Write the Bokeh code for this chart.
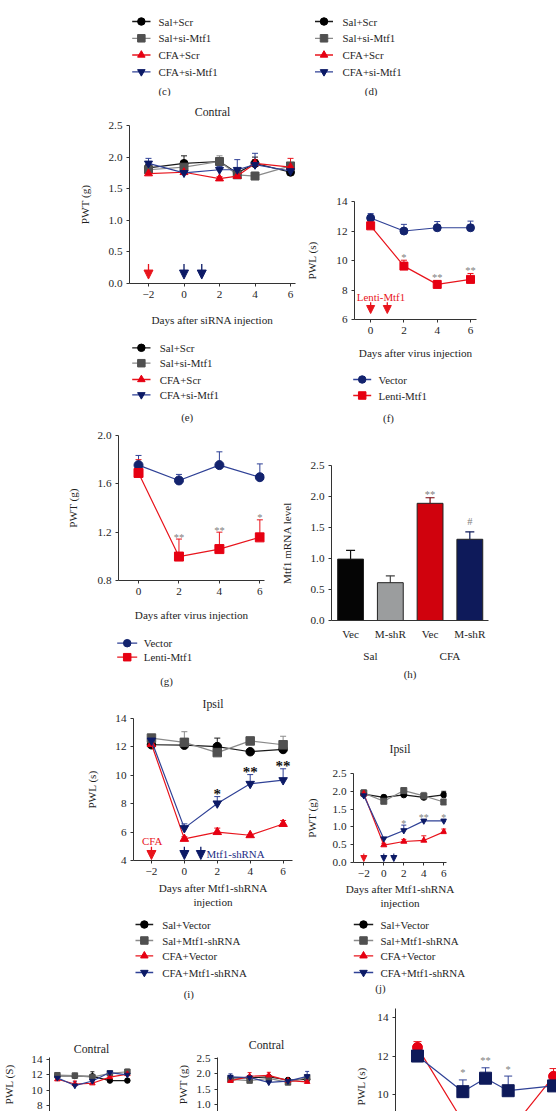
from bokeh.plotting import figure
from bokeh.layouts import column, row
from bokeh.models import (Range1d, Label, Whisker, ColumnDataSource, Arrow,
                          NormalHead, TeeHead, PrintfTickFormatter, LinearAxis,
                          FixedTicker, Title)
from bokeh.embed import file_html
from bokeh.resources import INLINE

# ---------------- data ----------------
si_groups = ["Sal+Scr", "Sal+si-Mtf1", "CFA+Scr", "CFA+si-Mtf1"]
sh_groups = ["Sal+Vector", "Sal+Mtf1-shRNA", "CFA+Vector", "CFA+Mtf1-shRNA"]
virus_groups = ["Vector", "Lenti-Mtf1"]

# (e) PWT, contralateral, siRNA
e_days = [-2, 0, 2, 3, 4, 6]
e_sal_scr = [1.83, 1.90, 1.93, 1.75, 1.90, 1.76]
e_sal_scr_err = [0.05, 0.12, 0.06, 0.06, 0.10, 0.03]
e_sal_si = [1.80, 1.84, 1.93, 1.72, 1.70, 1.86]
e_sal_si_err = [0.05, 0.05, 0.09, 0.05, 0.06, 0.05]
e_cfa_scr = [1.74, 1.76, 1.66, 1.70, 1.90, 1.84]
e_cfa_scr_err = [0.04, 0.15, 0.03, 0.03, 0.06, 0.14]
e_cfa_si = [1.90, 1.75, 1.80, 1.80, 1.88, 1.78]
e_cfa_si_err = [0.08, 0.04, 0.05, 0.16, 0.18, 0.03]
e_cfa_day = [-2]
e_sirna_days = [0, 1]

# (f) PWL after virus
f_days = [0, 2, 4, 6]
f_vector = [12.88, 12.0, 12.22, 12.22]
f_vector_err = [0.30, 0.45, 0.42, 0.45]
f_lenti = [12.35, 9.62, 8.38, 8.72]
f_lenti_err = [0.25, 0.40, 0.25, 0.40]
f_sig = ["", "*", "**", "**"]
f_virus_days = [0, 1]

# (g) PWT after virus
g_days = [0, 2, 4, 6]
g_vector = [1.755, 1.628, 1.755, 1.655]
g_vector_err = [0.08, 0.05, 0.11, 0.11]
g_lenti = [1.69, 0.998, 1.06, 1.157]
g_lenti_err = [0.11, 0.145, 0.14, 0.145]
g_sig = ["", "**", "**", "*"]

# (h) Mtf1 mRNA level
h_labels = ["Vec", "M-shR", "Vec", "M-shR"]
h_treat = ["Sal", "CFA"]
h_vals = [0.99, 0.61, 1.89, 1.31]
h_err = [0.14, 0.11, 0.09, 0.12]
h_sig = ["", "", "**", "#"]

# (i) PWL ipsilateral, shRNA
i_days = [-2, 0, 2, 4, 6]
i_sal_vec = [12.15, 12.12, 12.02, 11.66, 11.82]
i_sal_vec_err = [0.10, 0.10, 0.60, 0.10, 0.15]
i_sal_sh = [12.62, 12.32, 11.60, 12.42, 12.15]
i_sal_sh_err = [0.10, 0.75, 0.10, 0.10, 0.60]
i_cfa_vec = [12.20, 5.52, 6.00, 5.78, 6.57]
i_cfa_vec_err = [0.10, 0.15, 0.28, 0.05, 0.25]
i_cfa_sh = [12.45, 6.28, 8.02, 9.40, 9.66]
i_cfa_sh_err = [0.25, 0.30, 0.48, 0.65, 0.80]
i_sig = ["", "", "*", "**", "**"]
i_cfa_day = [-2]
i_shrna_days = [0, 1]

# (j) PWT ipsilateral, shRNA
j_days = [-2, 0, 2, 4, 6]
j_sal_vec = [1.92, 1.83, 1.90, 1.83, 1.90]
j_sal_vec_err = [0.12, 0.06, 0.05, 0.08, 0.10]
j_sal_sh = [1.95, 1.72, 2.02, 1.87, 1.70]
j_sal_sh_err = [0.10, 0.05, 0.05, 0.10, 0.05]
j_cfa_vec = [1.93, 0.49, 0.59, 0.62, 0.86]
j_cfa_vec_err = [0.05, 0.05, 0.06, 0.13, 0.08]
j_cfa_sh = [1.88, 0.67, 0.90, 1.17, 1.17]
j_cfa_sh_err = [0.05, 0.03, 0.15, 0.04, 0.04]
j_sig = ["", "", "*", "**", "*"]

# (k) PWL contralateral, shRNA
k_days = [-2, 0, 2, 4, 6]
k_sal_vec = [11.85, 11.85, 11.80, 11.25, 11.25]
k_sal_vec_err = [0.30, 0.30, 0.60, 0.10, 0.10]
k_sal_sh = [11.95, 11.90, 11.70, 12.20, 12.40]
k_sal_sh_err = [0.25, 0.25, 0.20, 0.20, 0.35]
k_cfa_vec = [11.42, 10.80, 10.90, 11.70, 12.10]
k_cfa_vec_err = [0.20, 0.40, 0.20, 0.20, 0.30]
k_cfa_sh = [11.60, 10.60, 11.20, 12.30, 12.00]
k_cfa_sh_err = [0.20, 0.50, 0.30, 0.25, 0.30]

# (l) PWT contralateral, shRNA
l_days = [-2, 0, 2, 4, 6]
l_sal_vec = [1.87, 1.87, 1.90, 1.80, 1.82]
l_sal_vec_err = [0.05, 0.05, 0.05, 0.05, 0.05]
l_sal_sh = [1.82, 1.78, 1.85, 1.72, 1.88]
l_sal_sh_err = [0.05, 0.05, 0.05, 0.05, 0.08]
l_cfa_vec = [1.77, 1.92, 1.95, 1.78, 1.74]
l_cfa_vec_err = [0.05, 0.12, 0.10, 0.10, 0.05]
l_cfa_sh = [1.90, 1.88, 1.72, 1.76, 1.92]
l_cfa_sh_err = [0.10, 0.05, 0.05, 0.05, 0.16]

# (m) PWL, last panel
m_days = [-2, 0, 1, 2, 4]
m_vector = [12.45, 8.60, 7.60, 8.00, 10.95]
m_vector_err = [0.30, 0.30, 0.30, 0.30, 0.40]
m_shrna = [12.00, 10.15, 10.85, 10.20, 10.45]
m_shrna_err = [0.15, 0.61, 0.54, 0.76, 0.30]
m_sig = ["", "*", "**", "*", ""]

# ---------------- layout helpers ----------------
FONT = "Liberation Serif"
AX = "#333333"
TXT = "#1e1e1e"


def X(v):
    return int(round(v))


def Y(v):
    return int(round(v))


def fs(px):
    return "%.1fpx" % px


def style_axis(ax):
    ax.axis_line_color = AX
    ax.axis_line_width = 1
    ax.major_tick_line_color = AX
    ax.major_tick_out = 3
    ax.major_tick_in = 0
    ax.minor_tick_line_color = None
    ax.major_label_text_font = FONT
    ax.major_label_text_font_size = fs(11.2)
    ax.major_label_text_color = TXT
    ax.major_label_standoff = 4
    ax.axis_label_text_font = FONT
    ax.axis_label_text_font_style = "normal"
    ax.axis_label_text_font_size = fs(11.2)
    ax.axis_label_text_color = TXT


def make_plot(box, frame, xr, yr, xticks, yticks, xaxis=True, title=None, title_standoff=7,
              ylabel=None, ylabel_standoff=15, xlabel=None, xlabel_standoff=12, yfmt=None):
    x0, y0, x1, y1 = box
    fl, ft, fr, fb = frame
    p = figure(width=X(x1) - X(x0), height=Y(y1) - Y(y0),
               x_range=Range1d(*xr), y_range=Range1d(*yr),
               min_border_left=X(fl) - X(x0), min_border_right=X(x1) - X(fr),
               min_border_top=Y(ft) - Y(y0), min_border_bottom=Y(y1) - Y(fb),
               x_axis_location="below" if xaxis else None,
               title=title, output_backend="svg", toolbar_location=None)
    p.outline_line_color = None
    p.grid.visible = False
    for ax in p.axis:
        style_axis(ax)
    p.yaxis.ticker = yticks
    if yfmt:
        p.yaxis.formatter = PrintfTickFormatter(format=yfmt)
    if ylabel:
        p.yaxis.axis_label = ylabel
        p.yaxis.axis_label_standoff = ylabel_standoff
    if xaxis:
        p.xaxis.ticker = xticks
        p.xaxis.major_label_overrides = {t: ("\u2212%d" % -t if t < 0 else "%d" % t) for t in xticks}
        if xlabel:
            p.xaxis.axis_label = xlabel
            p.xaxis.axis_label_standoff = xlabel_standoff
    if title:
        p.title.text_font = FONT
        p.title.text_font_style = "normal"
        p.title.text_font_size = fs(11.8)
        p.title.text_color = TXT
        p.title.align = "center"
        p.title.standoff = title_standoff
    pfl, pfr, pft, pfb = X(fl) - X(x0), X(fr) - X(x0), Y(ft) - Y(y0), Y(fb) - Y(y0)
    ox, oy = X(x0), Y(y0)

    def m(xref, yref):
        xs = xref - ox
        ys = yref - oy
        return (xr[0] + (xs - pfl) / (pfr - pfl) * (xr[1] - xr[0]),
                yr[1] - (ys - pft) / (pfb - pft) * (yr[1] - yr[0]))
    return p, m


def make_canvas(box):
    x0, y0, x1, y1 = box
    c = figure(width=X(x1) - X(x0), height=Y(y1) - Y(y0),
               x_range=Range1d(x0, x1), y_range=Range1d(y1, y0),
               min_border_left=0, min_border_right=0, min_border_top=0, min_border_bottom=0,
               x_axis_location=None, y_axis_location=None,
               title=None, output_backend="svg", toolbar_location=None)
    c.outline_line_color = None
    c.grid.visible = False
    return c


def txt(p, x, y, s, size=10.9, color=TXT, align="center", angle=0.0,
        style="normal", baseline="middle"):
    p.add_layout(Label(x=x, y=y, text=s, text_font=FONT, text_font_size=fs(size),
                       text_color=color, text_align=align, text_baseline=baseline,
                       angle=angle, text_font_style=style))


def rtxt(p, m, xref, yref, s, **kw):
    x, y = m(xref, yref)
    txt(p, x, y, s, **kw)


def add_series(p, xs, ys, errs, spec, size, lw=1.2, cap=6):
    lc, mk, mc = spec
    p.line(xs, ys, line_color=lc, line_width=lw)
    src = ColumnDataSource(dict(x=list(xs), lo=list(ys),
                                hi=[a + b for a, b in zip(ys, errs)]))
    p.add_layout(Whisker(source=src, base="x", lower="lo", upper="hi", dimension="height",
                         line_color=lc, line_width=1,
                         upper_head=TeeHead(size=cap, line_color=lc, line_width=1),
                         lower_head=None))
    p.scatter(xs, ys, marker=mk, size=size, fill_color=mc, line_color=mc)


def add_sig(p, xs, ys, errs, marks, color, size, offset, bold=False):
    for x, y, e, s in zip(xs, ys, errs, marks):
        if s:
            p.add_layout(Label(x=x, y=y + e, y_offset=offset, text=s, text_font=FONT,
                               text_font_size=fs(size), text_color=color,
                               text_align="center", text_baseline="middle",
                               text_font_style="bold" if bold else "normal"))


def add_arrows(p, m, days, ytop, ytip, color, head, lw=1.3):
    y_top = m(0, ytop)[1]
    y_tip = m(0, ytip)[1]
    for d in days:
        p.add_layout(Arrow(x_start=d, y_start=y_top, x_end=d, y_end=y_tip,
                           line_color=color, line_width=lw,
                           end=NormalHead(size=head, fill_color=color, line_color=color)))


def legend_rows(c, names, specs, xl0, xl1, xt, ys, msize=7.5, size=10.9):
    for name, (lc, mk, mc), y in zip(names, specs, ys):
        c.line([xl0, xl1], [y, y], line_color=lc, line_width=1.3)
        c.scatter([(xl0 + xl1) / 2], [y], marker=mk, size=msize, fill_color=mc, line_color=mc)
        txt(c, xt, y, name, size=size, align="left")


def wrap(p):
    return column(p)


# colours / series styles
S_BLACK = ("#1a1a1a", "circle", "#000000")
S_GRAY = ("#8a8a8a", "square", "#505050")
S_RED = ("#e8141c", "triangle", "#e60012")
S_NAVY = ("#2f4196", "inverted_triangle", "#0c1a66")
four_specs = [S_BLACK, S_GRAY, S_RED, S_NAVY]
V_NAVY = ("#2f4196", "circle", "#13236e")
V_RED = ("#e8141c", "square", "#e60012")
virus_specs = [V_NAVY, V_RED]
RED_T = "#e8141c"
NAVY_T = "#1c2c84"
YT25 = [0, 0.5, 1.0, 1.5, 2.0, 2.5]

# ---------------- band A : legends (c) and (d) ----------------
cA = make_canvas((0, 0, 556, 96))
legend_rows(cA, si_groups, four_specs, 131.7, 150, 158, [21, 37.8, 54.5, 71.3])
txt(cA, 164, 90.5, "(c)")
legend_rows(cA, si_groups, four_specs, 314.5, 332.5, 342, [21, 37.8, 54.5, 71.3])
txt(cA, 370.6, 90.5, "(d)")

# ---------------- (e) ----------------
pe, me = make_plot((0, 96, 303, 333), (129, 122.7, 295, 282.7), (-3.07, 6.28), (0, 2.5),
                   [-2, 0, 2, 4, 6], YT25, title="Contral", title_standoff=13,
                   ylabel="PWT (g)", ylabel_standoff=15,
                   xlabel="Days after siRNA injection", xlabel_standoff=13, yfmt="%.1f")
for ys, es, sp in zip([e_sal_scr, e_sal_si, e_cfa_scr, e_cfa_si],
                      [e_sal_scr_err, e_sal_si_err, e_cfa_scr_err, e_cfa_si_err], four_specs):
    add_series(pe, e_days, ys, es, sp, 8)
add_arrows(pe, me, e_cfa_day, 263.3, 278.5, RED_T, 9)
add_arrows(pe, me, e_sirna_days, 263.3, 278.5, "#0c1a66", 9)

e_leg = make_canvas((0, 333, 303, 427))
legend_rows(e_leg, si_groups, four_specs, 131.7, 150, 159.3, [347.3, 362.7, 379, 394.3])
txt(e_leg, 186.7, 416.7, "(e)")

# ---------------- (f) ----------------
pf, mf = make_plot((303, 96, 556, 370), (352.7, 200.7, 476, 319), (-0.97, 6.36), (6, 14),
                   [0, 2, 4, 6], [6, 8, 10, 12, 14], ylabel="PWL (s)", ylabel_standoff=15,
                   xlabel="Days after virus injection", xlabel_standoff=10)
add_series(pf, f_days, f_vector, f_vector_err, V_NAVY, 8)
add_series(pf, f_days, f_lenti, f_lenti_err, V_RED, 8)
add_sig(pf, f_days, f_lenti, f_lenti_err, f_sig, "#808080", 10.5, 3)
add_arrows(pf, mf, f_virus_days, 301.7, 313, RED_T, 8)
rtxt(pf, mf, 379.7, 296, "Lenti-Mtf1", color=RED_T)

f_leg = make_canvas((303, 370, 556, 427))
legend_rows(f_leg, virus_groups, virus_specs, 352.7, 370.7, 378, [379, 395])
txt(f_leg, 388, 417, "(f)")

# ---------------- (g) ----------------
pg, mg = make_plot((0, 427, 276, 628), (118.3, 434.7, 264, 580), (-0.99, 6.23), (0.8, 2.0),
                   [0, 2, 4, 6], [0.8, 1.2, 1.6, 2.0], ylabel="PWT (g)", ylabel_standoff=16,
                   xlabel="Days after virus injection", xlabel_standoff=11, yfmt="%.1f")
add_series(pg, g_days, g_vector, g_vector_err, V_NAVY, 9)
add_series(pg, g_days, g_lenti, g_lenti_err, V_RED, 9)
add_sig(pg, g_days, g_lenti, g_lenti_err, g_sig, "#808080", 10.5, 2)

g_leg = make_canvas((0, 628, 276, 687))
legend_rows(g_leg, virus_groups, virus_specs, 116.7, 136.7, 143.3, [642.7, 656.7])
txt(g_leg, 166, 680, "(g)")

# ---------------- (h) ----------------
ph, mh = make_plot((276, 427, 556, 687), (330.7, 465, 488, 620), (0.52, 4.47), (0, 2.5),
                   [1, 2, 3, 4], YT25, ylabel="Mtf1 mRNA level", ylabel_standoff=15,
                   yfmt="%.1f")
h_x = [1, 2, 3, 4]
ph.xaxis.major_label_overrides = {x: lab for x, lab in zip(h_x, h_labels)}
ph.xaxis.major_tick_out = 0
ph.xaxis.major_label_standoff = 7
grp_pos = [(h_x[0] + h_x[1]) / 2, (h_x[2] + h_x[3]) / 2]
grp_axis = LinearAxis(ticker=FixedTicker(ticks=grp_pos),
                      major_label_overrides={g: t for g, t in zip(grp_pos, h_treat)})
style_axis(grp_axis)
grp_axis.axis_line_color = None
grp_axis.major_tick_line_color = None
grp_axis.major_tick_out = 0
grp_axis.major_label_standoff = 7
grp_axis.axis_label = "(h)"
grp_axis.axis_label_standoff = 3
grp_axis.axis_label_text_font_size = fs(10.9)
ph.add_layout(grp_axis, "below")
h_fill = ["#050505", "#9b9d9e", "#d0020d", "#0e1a5a"]
h_errc = ["#111111", "#444444", "#7a0008", "#0e1a5a"]
ph.vbar(x=h_x, top=h_vals, width=0.65, fill_color=h_fill, line_color="#222222", line_width=1)
for x, v, e, c in zip(h_x, h_vals, h_err, h_errc):
    src = ColumnDataSource(dict(x=[x], lo=[v], hi=[v + e]))
    ph.add_layout(Whisker(source=src, base="x", lower="lo", upper="hi", dimension="height",
                          line_color=c, line_width=1.2,
                          upper_head=TeeHead(size=9, line_color=c, line_width=1.2),
                          lower_head=None))
add_sig(ph, h_x[2:3], h_vals[2:3], h_err[2:3], h_sig[2:3], "#808080", 10.5, 3.3)
add_sig(ph, h_x[3:], h_vals[3:], h_err[3:], h_sig[3:], "#808080", 10.5, 10)

# ---------------- (i) ----------------
pi_, mi = make_plot((0, 687, 300, 912), (133, 716, 292, 860.5), (-3.09, 6.57), (4, 14),
                    [-2, 0, 2, 4, 6], [4, 6, 8, 10, 12, 14], title="Ipsil", title_standoff=15,
                    ylabel="PWL (s)", ylabel_standoff=14,
                    xlabel="Days after Mtf1-shRNA\ninjection", xlabel_standoff=4)
for ys, es, sp in zip([i_sal_vec, i_sal_sh, i_cfa_vec, i_cfa_sh],
                      [i_sal_vec_err, i_sal_sh_err, i_cfa_vec_err, i_cfa_sh_err], four_specs):
    add_series(pi_, i_days, ys, es, sp, 8.5)
add_sig(pi_, i_days, i_cfa_sh, i_cfa_sh_err, i_sig, "#111111", 15, 2.5, bold=True)
add_arrows(pi_, mi, i_cfa_day, 846, 859, RED_T, 9)
add_arrows(pi_, mi, i_shrna_days, 846, 859, "#0c1a66", 9)
rtxt(pi_, mi, 151.7, 840, "CFA", color=RED_T)
rtxt(pi_, mi, 206, 853, "Mtf1-shRNA", color=NAVY_T, align="left")

i_leg = make_canvas((0, 912, 300, 1000))
legend_rows(i_leg, sh_groups, four_specs, 135, 152.7, 161.7, [924, 940, 955.3, 972])
txt(i_leg, 188.3, 993.3, "(i)")

# ---------------- (j) ----------------
pj, mj = make_plot((300, 687, 556, 912), (353, 772.7, 446, 861.7), (-3.03, 6.27), (0, 2.5),
                   [-2, 0, 2, 4, 6], YT25, title="Ipsil", title_standoff=36,
                   ylabel="PWT (g)", ylabel_standoff=12,
                   xlabel="Days after Mtf1-shRNA\ninjection", xlabel_standoff=3, yfmt="%.1f")
for ys, es, sp in zip([j_sal_vec, j_sal_sh, j_cfa_vec, j_cfa_sh],
                      [j_sal_vec_err, j_sal_sh_err, j_cfa_vec_err, j_cfa_sh_err], four_specs):
    add_series(pj, j_days, ys, es, sp, 6, cap=5)
add_sig(pj, j_days, j_cfa_sh, j_cfa_sh_err, j_sig, "#808080", 10, 2)
add_arrows(pj, mj, i_cfa_day, 853, 861, RED_T, 6, lw=1)
add_arrows(pj, mj, i_shrna_days, 853, 861, "#0c1a66", 6, lw=1)

j_leg = make_canvas((300, 912, 556, 1000))
legend_rows(j_leg, sh_groups, four_specs, 353.3, 372.7, 380, [924, 940, 955.3, 972])
txt(j_leg, 380, 987.3, "(j)")

# ---------------- bottom row ----------------
pk, mk_ = make_plot((0, 1000, 150, 1111), (45, 1057, 133, 1111), (-2.9, 6.7), (7.22, 14.26),
                    None, [8, 10, 12, 14], xaxis=False, title="Contral", title_standoff=4,
                    ylabel="PWL (S)", ylabel_standoff=13)
for ys, es, sp in zip([k_sal_vec, k_sal_sh, k_cfa_vec, k_cfa_sh],
                      [k_sal_vec_err, k_sal_sh_err, k_cfa_vec_err, k_cfa_sh_err], four_specs):
    add_series(pk, k_days, ys, es, sp, 5.5, cap=4)

pl, ml = make_plot((150, 1000, 340, 1111), (217, 1057, 315, 1111), (-3.35, 6.87), (0.772, 2.533),
                   None, [1.0, 1.5, 2.0, 2.5], xaxis=False, title="Contral", title_standoff=11,
                   ylabel="PWT (g)", ylabel_standoff=5, yfmt="%.1f")
for ys, es, sp in zip([l_sal_vec, l_sal_sh, l_cfa_vec, l_cfa_sh],
                      [l_sal_vec_err, l_sal_sh_err, l_cfa_vec_err, l_cfa_sh_err], four_specs):
    add_series(pl, l_days, ys, es, sp, 5.5, cap=4)

pm, mm = make_plot((340, 1000, 556, 1111), (395, 1008, 556, 1111), (-2.97, 4.13), (9.12, 14.47),
                   None, [10, 12, 14], xaxis=False)
pm.add_layout(Title(text="PWL (s)", align="left", offset=6, standoff=15, text_font=FONT,
                    text_font_style="normal", text_font_size=fs(11.2), text_color=TXT), "left")
add_series(pm, m_days, m_vector, m_vector_err, ("#e8141c", "circle", "#e60012"), 10, cap=8)
add_series(pm, m_days, m_shrna, m_shrna_err, ("#2f4196", "square", "#0e1a5a"), 12, cap=8)
add_sig(pm, m_days, m_shrna, m_shrna_err, m_sig, "#808080", 10.5, 7)

layout = column(
    wrap(cA),
    row(column(wrap(pe), wrap(e_leg)), column(wrap(pf), wrap(f_leg))),
    row(column(wrap(pg), wrap(g_leg)), wrap(ph)),
    row(column(wrap(pi_), wrap(i_leg)), column(wrap(pj), wrap(j_leg))),
    row(wrap(pk), wrap(pl), wrap(pm)),
)

open("out.html", "w").write(file_html(layout, INLINE))
